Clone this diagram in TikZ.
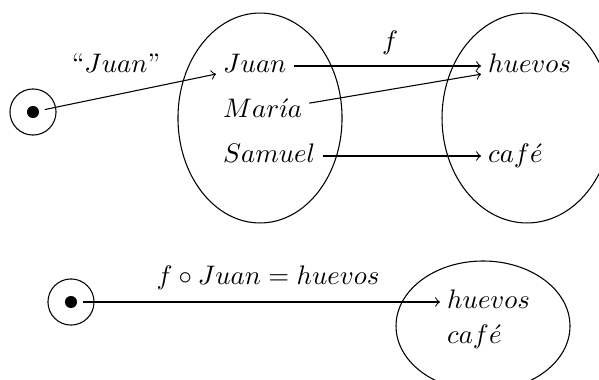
\documentclass[tikz,border=0pt]{standalone}
\usepackage{amsmath}
\usepackage{amssymb}
\usetikzlibrary{shapes.geometric}

\begin{document}
\begin{tikzpicture}[x=0.373pt, y=-0.373pt,
        elem/.style={anchor=west, inner sep=2.5pt, text height=7pt, text depth=2pt},
        conj/.style={draw, ellipse, inner sep=0pt},
        ring/.style={draw, circle, minimum size=17.2pt, inner sep=0pt},
        punto/.style={fill, circle, minimum size=4.5pt, inner sep=0pt}]
        \clip (0,0) rectangle (599,379);

        \node[conj, minimum width=61.2pt, minimum height=78.3pt] (dom) at (260,118) {};
        \node[conj, minimum width=63.4pt, minimum height=78.3pt] (cod) at (527,118) {};
        \node[conj, minimum width=64.9pt, minimum height=48.5pt] (codb) at (483,326) {};

        \node[punto] (p1) at (33,112) {};
        \node[ring] (r1) at (p1) {};
        \node[punto] (p2) at (71,302) {};
        \node[ring] (r2) at (p2) {};

        \node[elem] (juan) at (216,66) {$Juan$};
        \node[elem] (maria) at (216,111) {$Mar\acute{\imath}a$};
        \node[elem] (samuel) at (216,156) {$Samuel$};
        \node[elem] (huevos) at (481,66) {$huevos$};
        \node[elem] (cafe) at (481,156) {$caf\acute{e}$};
        \node[elem] (huevosb) at (440,302) {$huevos$};
        \node[elem] (cafeb) at (440,337) {$caf\acute{e}$};

        \draw[->, shorten <=4.5pt] (p1.center) -- (juan);
        \draw[->] (juan) -- (huevos);
        \draw[->] (maria) -- (huevos);
        \draw[->] (samuel) -- (cafe);
        \draw[->, shorten <=4.5pt] (p2.center) -- (huevosb);

        \node (nombre) at (116,63) {``$Juan$''};
        \node (flbl) at (390,43) {$f$};
        \node (comp) at (268,278) {$f\circ Juan=huevos$};
    \end{tikzpicture}
\end{document}
